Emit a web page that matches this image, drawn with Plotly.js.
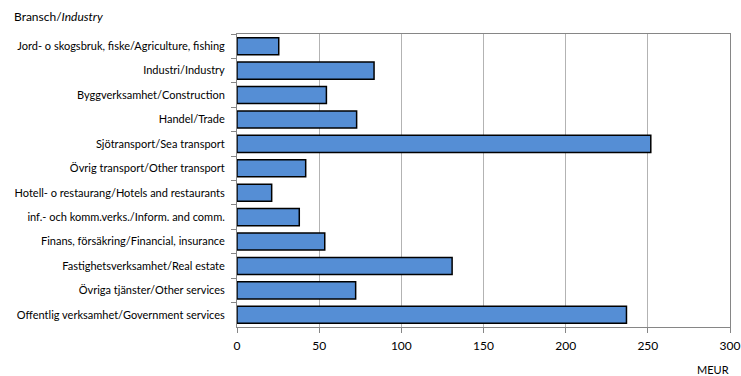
<!DOCTYPE html>
<html>
<head>
<meta charset="utf-8">
<script src="https://cdn.plot.ly/plotly-3.0.1.min.js"></script>
<style>html,body{margin:0;padding:0;background:#fff;}#chart{width:741px;height:376px;}</style>
</head>
<body>
<div id="chart"></div>
<script>
const categories = [
  "Jord- o skogsbruk, fiske/Agriculture, fishing",
  "Industri/Industry",
  "Byggverksamhet/Construction",
  "Handel/Trade",
  "Sjötransport/Sea transport",
  "Övrig transport/Other transport",
  "Hotell- o restaurang/Hotels and restaurants",
  "inf.- och komm.verks./Inform. and comm.",
  "Finans, försäkring/Financial, insurance",
  "Fastighetsverksamhet/Real estate",
  "Övriga tjänster/Other services",
  "Offentlig verksamhet/Government services"
];
const values = [25.4, 83.4, 54.4, 72.8, 251.8, 41.8, 21.1, 37.9, 53.4, 130.9, 72.2, 237.0];
const xTicks = [0, 50, 100, 150, 200, 250, 300];

const FONT = "Lato, 'Open Sans', sans-serif";

Plotly.newPlot("chart", [{
  type: "bar",
  orientation: "h",
  x: values,
  y: categories,
  marker: {color: "#558ED5", line: {color: "#000000", width: 1.5}},
  hoverinfo: "skip"
}], {
  width: 741, height: 376,
  margin: {l: 237, r: 11, t: 34, b: 49, pad: 0},
  paper_bgcolor: "#ffffff", plot_bgcolor: "#ffffff",
  bargap: 0.3,
  showlegend: false,
  font: {family: FONT, size: 11, color: "#000000"},
  xaxis: {
    range: [0, 300], tickvals: xTicks, ticktext: xTicks.map(String),
    showgrid: true, gridcolor: "#b3b3b3", gridwidth: 1,
    showline: true, linecolor: "#868686", linewidth: 1, mirror: true,
    ticks: "outside", ticklen: 5, tickcolor: "#868686",
    zeroline: false, tickfont: {size: 12, family: FONT}, fixedrange: true,
    ticklabelstandoff: 3
  },
  yaxis: {
    type: "category", autorange: "reversed",
    showline: true, linecolor: "#868686", linewidth: 1, mirror: true,
    ticks: "outside", ticklen: 5, tickcolor: "#868686", tickson: "boundaries",
    showgrid: false, tickfont: {size: 11, family: FONT}, fixedrange: true,
    ticklabelstandoff: 9
  },
  annotations: [
    {text: "Bransch/<i>Industry</i>", xref: "paper", yref: "paper", x: -237/493, y: 1, xshift: 12, yshift: 18,
     xanchor: "left", yanchor: "middle", showarrow: false, font: {size: 12, family: FONT}},
    {text: "MEUR", xref: "paper", yref: "paper", x: 1, y: 0, xshift: 1, yshift: -42,
     xanchor: "right", yanchor: "middle", showarrow: false, font: {size: 11, family: FONT}}
  ]
}, {staticPlot: true});
</script>
</body>
</html>
